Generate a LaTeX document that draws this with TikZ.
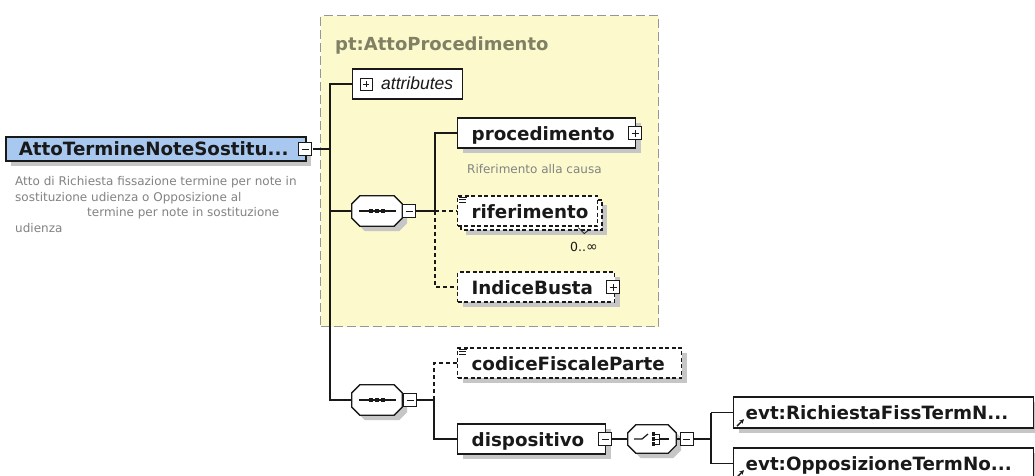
\documentclass[tikz,border=0pt]{standalone}
\usepackage{fontspec}
\setmainfont{DejaVu Sans}
\newfontfamily\libsans{Liberation Sans}
\usetikzlibrary{shadows,calc,arrows.meta}
\definecolor{ybg}{RGB}{252,250,205}
\definecolor{rootblue}{RGB}{168,200,240}
\definecolor{shdc}{RGB}{198,198,198}
\definecolor{desc}{RGB}{130,130,130}
\definecolor{ttl}{RGB}{128,128,100}
\definecolor{ink}{RGB}{25,25,25}
\definecolor{grpline}{RGB}{150,150,150}
\newcommand\octo[1]{%
  \fill[shdc] ($(#1.north west)+(13,5)$) -- ($(#1.north east)+(-3,5)$) -- ($(#1.north east)+(5,13)$) -- ($(#1.south east)+(5,-3)$) -- ($(#1.south east)+(-3,5)$) -- ($(#1.south west)+(13,5)$) -- ($(#1.south west)+(5,-3)$) -- ($(#1.north west)+(5,13)$) -- cycle;
  \draw[ln, fill=white] ($(#1.north west)+(8,0)$) -- ($(#1.north east)+(-8,0)$) -- ($(#1.north east)+(0,8)$) -- ($(#1.south east)+(0,-8)$) -- ($(#1.south east)+(-8,0)$) -- ($(#1.south west)+(8,0)$) -- ($(#1.south west)+(0,-8)$) -- ($(#1.north west)+(0,8)$) -- cycle;}
\tikzset{
  ln/.style={draw=ink, line width=1.3pt},
  dln/.style={ln, line width=1.2pt, dash pattern=on 4pt off 3pt},
  shd/.style={drop shadow={shadow xshift=5pt, shadow yshift=-5pt, fill=shdc, opacity=1}},
  elembase/.style={draw=ink, line width=1.3pt, fill=white, text=ink,
    font=\fontsize{18.3}{20}\selectfont\bfseries, anchor=west,
    minimum height=30pt, inner xsep=14pt, inner ysep=0pt, text height=15pt, text depth=1pt},
  elem/.style={elembase, shd},
  optelem/.style={elembase, shd, line width=1.2pt, dash pattern=on 4pt off 2.5pt},
  optfront/.style={elembase, line width=1.2pt, dash pattern=on 4pt off 2.5pt},
  rootbox/.style={elembase, shd, fill=rootblue, line width=1.5pt, minimum height=24pt, inner xsep=13pt, text height=13pt, text depth=1pt},
  grpbox/.style={draw=grpline, fill=ybg, line width=1.1pt, dash pattern=on 9pt off 4pt, anchor=north west, inner sep=0pt},
  grptitle/.style={text=ttl, font=\fontsize{18}{20}\selectfont\bfseries, anchor=base west, inner sep=0pt},
  desctext/.style={text=desc, font=\fontsize{12}{15.8}\selectfont, align=left, inner sep=0pt},
  octbase/.style={minimum width=50pt, minimum height=30pt, inner sep=0pt},
  minusbox/.style={draw=ink, fill=white, line width=1pt, minimum size=13pt, inner sep=0pt,
    path picture={\draw[ink, line width=1pt] ([xshift=3pt]path picture bounding box.west) -- ([xshift=-3pt]path picture bounding box.east);}},
  plusbox/.style={minusbox,
    path picture={\draw[ink, line width=1pt] ([xshift=3pt]path picture bounding box.west) -- ([xshift=-3pt]path picture bounding box.east)
      ([yshift=3pt]path picture bounding box.south) -- ([yshift=-3pt]path picture bounding box.north);}},
  eqicon/.style={draw=ink, line width=0.7pt},
  attrbox/.style={draw=ink, line width=1.3pt, fill=white, anchor=west, minimum width=110pt, minimum height=30pt, inner sep=0pt},
}
\begin{document}
\begin{tikzpicture}[x=1pt,y=-1pt]
\useasboundingbox (0,0) rectangle (1035,475);
\clip (0,0) rectangle (1035,475);
\fill[white] (0,0) rectangle (1035,475);

% group container
\node[grpbox, minimum width=338pt, minimum height=311pt] (grp) at (320,15) {};
\node[grptitle] (grpt) at (335,50) {pt:AttoProcedimento};

% coordinates of vertical buses
\coordinate (tx) at (330,0);
\coordinate (v1) at (435,0);
\coordinate (v2) at (434,0);
\coordinate (v3) at (711,0);

% root element
\node[rootbox] (root) at (5,149) {\makebox[274pt][l]{AttoTermineNoteSostitu...}};
\node[desctext, anchor=base west] (rootd) at (15,185) {Atto di Richiesta fissazione termine per note in};
\node[desctext, anchor=base west] (rootd2) at (15,201) {sostituzione udienza o Opposizione al};
\node[desctext, anchor=base west] (rootd3) at (87,216.7) {termine per note in sostituzione};
\node[desctext, anchor=base west] (rootd4) at (15,232.7) {udienza};

% attributes
\node[attrbox] (attr) at (352,84) {};
\node[text=ink, font=\libsans\fontsize{17.5}{19}\selectfont\itshape, anchor=base west, inner sep=0pt] (attrt) at (381,89.5) {attributes};

% sequences
\node[octbase] (seq1) at (377,211) {};
\octo{seq1}
\node[octbase] (seq2) at (377,400) {};
\octo{seq2}
\node[minimum width=48pt, minimum height=28pt, inner sep=0pt] (choice) at (652,439) {};
\octo{choice}

% sequence symbols
\foreach \s in {seq1,seq2}{
  \draw[ink, line width=1.2pt] ($(\s.west)+(7,0)$) -- ($(\s.east)+(-6,0)$);
  \foreach \dx in {-6,0,6}{
    \fill[ink] ($(\s.center)+(\dx-1.7,-1.7)$) rectangle ($(\s.center)+(\dx+1.7,1.7)$);
  }
}
% choice symbol
\draw[ink, line width=1.2pt] ($(choice.center)+(-18,0)$) -- ($(choice.center)+(-10,0)$) -- ($(choice.center)+(-4,-5)$);
\foreach \dy in {-5,0,5}{
  \fill[ink] ($(choice.center)+(-0.5,\dy-1.6)$) rectangle ($(choice.center)+(2.7,\dy+1.6)$);
  \draw[ink, line width=1pt] ($(choice.center)+(2.5,\dy)$) -- ($(choice.center)+(7,\dy)$);
}
\draw[ink, line width=1pt] ($(choice.center)+(7,-5.5)$) -- ($(choice.center)+(7,5.5)$);
\draw[ink, line width=1.2pt] ($(choice.center)+(7,0)$) -- ($(choice.center)+(17,0)$);

% children of first sequence
\node[elem] (proc) at (457,133) {\makebox[150pt][l]{procedimento}};
\node[desctext, anchor=base west] (procd) at (467,173.3) {Riferimento alla causa};
\fill[shdc] (466,205) rectangle (607,235);
\draw[ink, line width=1.2pt, dash pattern=on 4pt off 2.5pt, fill=white] (461,200) rectangle (602,230);
\node[optfront] (rif) at (457,211) {\makebox[112pt][l]{riferimento}};
\draw[ink, line width=0.8pt] ($(rif.south east)+(-20,1)$) -- ++(6,6) -- ++(5,-4);
\node[text=ink, font=\fontsize{12.5}{14}\selectfont, anchor=base west, inner sep=0pt] (rifm) at (570,251.5) {0..\raisebox{-0.3pt}{\fontsize{14}{14}\selectfont∞}};
\node[optelem] (ind) at (457,287) {\makebox[129pt][l]{IndiceBusta}};

% children of second sequence
\node[optelem] (cod) at (457,363) {\makebox[196pt][l]{codiceFiscaleParte}};
\node[elem] (disp) at (457,439) {\makebox[120pt][l]{dispositivo}};

% choice children
\node[elem, minimum height=31pt, inner xsep=12pt] (evt1) at (733,412.5) {\makebox[276pt][l]{evt:RichiestaFissTermN...}};
\node[elem, minimum height=31pt, inner xsep=12pt] (evt2) at (733,463.5) {\makebox[276pt][l]{evt:OpposizioneTermNo...}};

% simple type icons
\foreach \n in {rif,cod}{
  \draw[eqicon] ($(\n.north west)+(2,1.5)$) -- ++(8,0);
  \draw[eqicon] ($(\n.north west)+(2,4)$) -- ++(7,0);
  \draw[eqicon] ($(\n.north west)+(2,6.5)$) -- ++(7,0);
}
% reference arrows
\foreach \n in {evt1,evt2}{
  \draw[ink, line width=1.4pt, -{Stealth[length=4.5pt,width=4.5pt]}] ($(\n.south west)+(4,-2.5)$) -- ++(7,-7);
}

% connectors
\draw[ln] (root.east) ++(6.5,0) -- (root.east -| tx);
\draw[ln] (attr.west) -- (attr.west -| tx) -- (seq2.west -| tx) -- (seq2.west);
\draw[ln] (seq1.west -| tx) -- (seq1.west);
\draw[ln] (seq1.east) -- (seq1.east -| v1);
\draw[ln] (seq1.east -| v1) -- (proc.west -| v1) -- (proc.west);
\draw[dln] (seq1.east -| v1) -- (ind.west -| v1) -- (ind.west);
\draw[dln] (rif.west -| v1) -- (rif.west);
\draw[ln] (seq2.east) -- (seq2.east -| v2);
\draw[dln] (seq2.east -| v2) -- (cod.west -| v2) -- (cod.west);
\draw[ln] (seq2.east -| v2) -- (disp.west -| v2) -- (disp.west);
\draw[ln] (disp.east) -- (choice.west);
\draw[ln] (choice.east) -- (choice.east -| v3);
\draw[ln] (evt1.west -| v3) -- (evt2.west -| v3);
\draw[ln] (evt1.west -| v3) -- (evt1.west);
\draw[ln] (evt2.west -| v3) -- (evt2.west);

% expand / collapse icons
\node[minusbox] (rootm) at (305,149) {};
\node[plusbox, minimum size=12pt] (attrp) at (366,84) {};
\node[plusbox] (procp) at (635,133) {};
\node[plusbox] (indp) at (613,287) {};
\node[minusbox] (seq1m) at (409,211) {};
\node[minusbox] (seq2m) at (410,400) {};
\node[minusbox] (dispm) at (605,439) {};
\node[minusbox] (choicem) at (686.5,439) {};
\end{tikzpicture}
\end{document}
